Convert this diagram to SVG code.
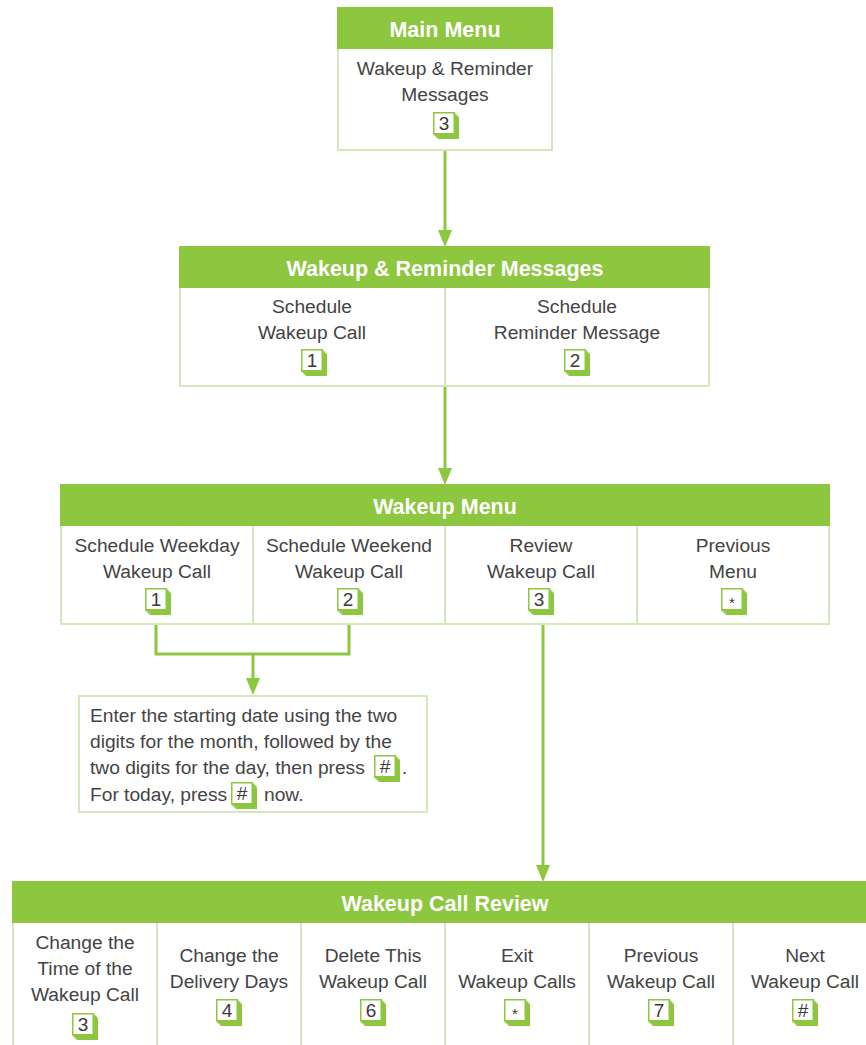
<svg xmlns="http://www.w3.org/2000/svg" width="866" height="1045" viewBox="0 0 866 1045">
  <style>
    .box { fill: #ffffff; stroke: #d5e8bd; stroke-width: 2; }
    .head { fill: #8dc63f; }
    .div { stroke: #d5e8bd; stroke-width: 2; }
    .ht { font-family: "Liberation Sans", Arial, sans-serif; font-weight: bold; font-size: 21.5px; fill: #ffffff; text-anchor: middle; }
    .t { font-family: "Liberation Sans", Arial, sans-serif; font-size: 19.2px; fill: #444444; text-anchor: middle; }
    .p { font-family: "Liberation Sans", Arial, sans-serif; font-size: 19.2px; fill: #444444; }
    .k { font-family: "Liberation Sans", Arial, sans-serif; font-size: 19px; fill: #3a3a3a; text-anchor: middle; }
    .ks { font-family: "Liberation Sans", Arial, sans-serif; font-size: 15px; fill: #3a3a3a; text-anchor: middle; }
    .wire { fill: none; stroke: #8dc63f; stroke-width: 3; }
    .tip { fill: #8dc63f; }
  </style>
  <defs>
    <!-- keypad button: white face with green extruded edge -->
    <g id="key">
      <path d="M21,0 L26,5 L26,27 L5,27 L0,22 L21,22 Z" fill="#8dc63f"/>
      <path d="M21,0 L26,5 L26,6 L21,1 Z M0,22 L5,27 L6,27 L1,22 Z" fill="#b5dc80"/>
      <rect x="0.75" y="0.75" width="20.5" height="21" fill="#ffffff" stroke="#8dc63f" stroke-width="1.5"/>
    </g>
  </defs>

  <!-- connectors -->
  <g id="connectors">
    <path class="wire" d="M445,150 V232"/>
    <polygon class="tip" points="445,247 438,230 452,230"/>
    <path class="wire" d="M445,386 V470"/>
    <polygon class="tip" points="445,485 438,468 452,468"/>
    <path class="wire" d="M156,624 V654 H349 V624"/>
    <path class="wire" d="M253,654 V680"/>
    <polygon class="tip" points="253,695 246,678 260,678"/>
    <path class="wire" d="M543,624 V867"/>
    <polygon class="tip" points="543,882 536,865 550,865"/>
  </g>

  <!-- Main Menu -->
  <g id="main-menu">
    <rect class="box" x="338" y="8" width="214" height="142"/>
    <rect class="head" x="337" y="7" width="216" height="42"/>
    <text class="ht" x="445" y="37">Main Menu</text>
    <text class="t" x="445" y="75">Wakeup &amp; Reminder</text>
    <text class="t" x="445" y="101">Messages</text>
    <use href="#key" x="433" y="112"/>
    <text class="k" x="444" y="130">3</text>
  </g>

  <!-- Wakeup & Reminder Messages -->
  <g id="reminder-menu">
    <rect class="box" x="180" y="247" width="529" height="139"/>
    <rect class="head" x="179" y="246" width="531" height="42"/>
    <line class="div" x1="445" y1="288" x2="445" y2="386"/>
    <text class="ht" x="445" y="276">Wakeup &amp; Reminder Messages</text>
    <text class="t" x="312" y="313">Schedule</text>
    <text class="t" x="312" y="339">Wakeup Call</text>
    <use href="#key" x="301" y="349"/>
    <text class="k" x="312" y="367">1</text>
    <text class="t" x="577" y="313">Schedule</text>
    <text class="t" x="577" y="339">Reminder Message</text>
    <use href="#key" x="564" y="349"/>
    <text class="k" x="575" y="367">2</text>
  </g>

  <!-- Wakeup Menu -->
  <g id="wakeup-menu">
    <rect class="box" x="61" y="485" width="768" height="139"/>
    <rect class="head" x="60" y="484" width="770" height="42"/>
    <line class="div" x1="253" y1="526" x2="253" y2="624"/>
    <line class="div" x1="445" y1="526" x2="445" y2="624"/>
    <line class="div" x1="637" y1="526" x2="637" y2="624"/>
    <text class="ht" x="445" y="514">Wakeup Menu</text>
    <text class="t" x="157" y="552">Schedule Weekday</text>
    <text class="t" x="157" y="578">Wakeup Call</text>
    <use href="#key" x="145" y="588"/>
    <text class="k" x="156" y="606">1</text>
    <text class="t" x="349" y="552">Schedule Weekend</text>
    <text class="t" x="349" y="578">Wakeup Call</text>
    <use href="#key" x="337" y="588"/>
    <text class="k" x="348" y="606">2</text>
    <text class="t" x="541" y="552">Review</text>
    <text class="t" x="541" y="578">Wakeup Call</text>
    <use href="#key" x="528" y="588"/>
    <text class="k" x="539" y="606">3</text>
    <text class="t" x="733" y="552">Previous</text>
    <text class="t" x="733" y="578">Menu</text>
    <use href="#key" x="721" y="588"/>
    <text class="ks" x="732" y="608">*</text>
  </g>

  <!-- Start date prompt -->
  <g id="date-prompt">
    <rect class="box" x="79" y="696" width="348" height="116"/>
    <text class="p" x="90" y="722">Enter the starting date using the two</text>
    <text class="p" x="90" y="748">digits for the month, followed by the</text>
    <text class="p" x="90" y="774">two digits for the day, then press</text>
    <use href="#key" x="374" y="755"/>
    <text class="k" x="385" y="773">#</text>
    <text class="p" x="402" y="774">.</text>
    <text class="p" x="90" y="801">For today, press</text>
    <use href="#key" x="231" y="782"/>
    <text class="k" x="242" y="800">#</text>
    <text class="p" x="264" y="801">now.</text>
  </g>

  <!-- Wakeup Call Review -->
  <g id="review-menu">
    <rect class="box" x="13" y="882" width="880" height="180"/>
    <rect class="head" x="12" y="881" width="880" height="42"/>
    <line class="div" x1="157" y1="923" x2="157" y2="1045"/>
    <line class="div" x1="301" y1="923" x2="301" y2="1045"/>
    <line class="div" x1="445" y1="923" x2="445" y2="1045"/>
    <line class="div" x1="589" y1="923" x2="589" y2="1045"/>
    <line class="div" x1="733" y1="923" x2="733" y2="1045"/>
    <text class="ht" x="445" y="911">Wakeup Call Review</text>

    <text class="t" x="85" y="949">Change the</text>
    <text class="t" x="85" y="975">Time of the</text>
    <text class="t" x="85" y="1001">Wakeup Call</text>
    <use href="#key" x="72" y="1013"/>
    <text class="k" x="83" y="1031">3</text>

    <text class="t" x="229" y="962">Change the</text>
    <text class="t" x="229" y="988">Delivery Days</text>
    <use href="#key" x="216" y="999"/>
    <text class="k" x="227" y="1017">4</text>

    <text class="t" x="373" y="962">Delete This</text>
    <text class="t" x="373" y="988">Wakeup Call</text>
    <use href="#key" x="360" y="999"/>
    <text class="k" x="371" y="1017">6</text>

    <text class="t" x="517" y="962">Exit</text>
    <text class="t" x="517" y="988">Wakeup Calls</text>
    <use href="#key" x="504" y="999"/>
    <text class="ks" x="515" y="1019">*</text>

    <text class="t" x="661" y="962">Previous</text>
    <text class="t" x="661" y="988">Wakeup Call</text>
    <use href="#key" x="648" y="999"/>
    <text class="k" x="659" y="1017">7</text>

    <text class="t" x="805" y="962">Next</text>
    <text class="t" x="805" y="988">Wakeup Call</text>
    <use href="#key" x="792" y="999"/>
    <text class="k" x="803" y="1017">#</text>
  </g>
</svg>
